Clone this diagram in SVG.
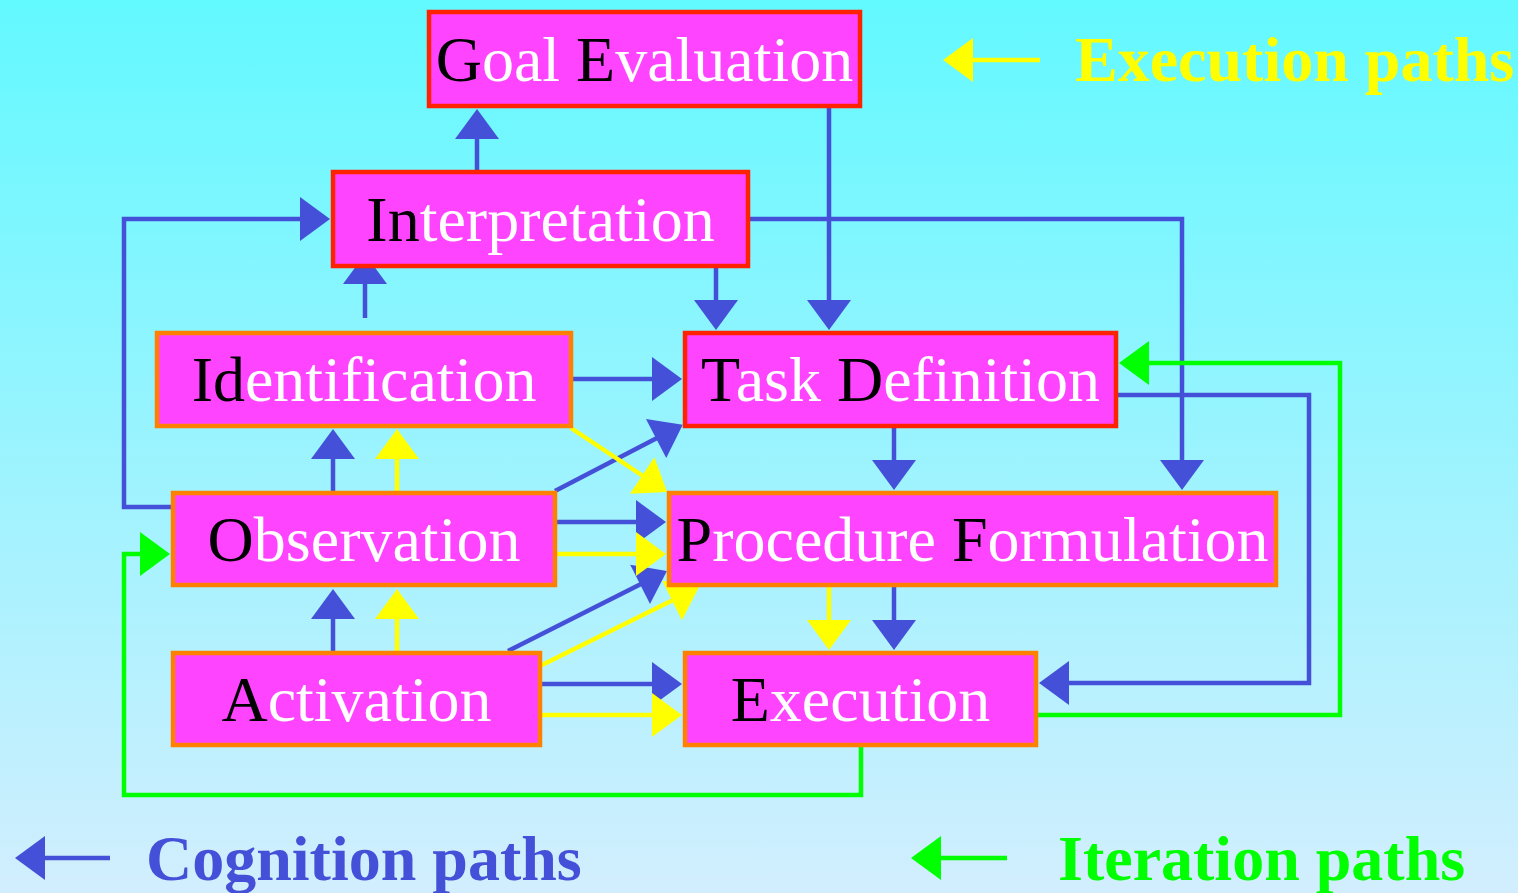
<svg xmlns="http://www.w3.org/2000/svg" width="1518" height="893" viewBox="0 0 1518 893">
<defs>
<linearGradient id="bg" x1="0" y1="0" x2="0" y2="1">
<stop offset="0" stop-color="#62F9FF"/>
<stop offset="1" stop-color="#D2EEFE"/>
</linearGradient>
<marker id="ab" markerUnits="userSpaceOnUse" markerWidth="34" markerHeight="48" viewBox="-2 -24 34 48" refX="1" refY="0" orient="auto"><path d="M0,-22 L30,0 L0,22 z" fill="#4450D8"/></marker>
<marker id="ay" markerUnits="userSpaceOnUse" markerWidth="34" markerHeight="48" viewBox="-2 -24 34 48" refX="1" refY="0" orient="auto"><path d="M0,-22 L30,0 L0,22 z" fill="#FFFF00"/></marker>
<marker id="ag" markerUnits="userSpaceOnUse" markerWidth="34" markerHeight="48" viewBox="-2 -24 34 48" refX="1" refY="0" orient="auto"><path d="M0,-22 L30,0 L0,22 z" fill="#00FF00"/></marker>
</defs>
<style>
.box{fill:#FF44FF;stroke-width:4.5}
.red{stroke:#FF2200}
.org{stroke:#FF8000}
.lbl{font-family:"Liberation Serif","Times New Roman",serif;font-size:64px;fill:#FFFFFF;text-anchor:middle}
.k{fill:#000000}
.b{fill:none;stroke:#4450D8;stroke-width:4.5;marker-end:url(#ab)}
.y{fill:none;stroke:#FFFF00;stroke-width:4.5;marker-end:url(#ay)}
.g{fill:none;stroke:#00FF00;stroke-width:4.5;marker-end:url(#ag)}
.leg{font-family:"Liberation Serif","Times New Roman",serif;font-size:64px;font-weight:bold}
</style>
<rect x="0" y="0" width="1518" height="893" fill="url(#bg)"/>

<g id="connectors">
<path class="b" d="M477,170 V138"/>
<path class="b" d="M365,318 V283"/>
<path class="b" d="M333,491 V458"/>
<path class="b" d="M333,651 V618"/>
<path class="b" d="M750,219 H1182 V461"/>
<path class="b" d="M716,268 V301"/>
<path class="b" d="M829,108 V301"/>
<path class="b" d="M573,379 H653"/>
<path class="b" d="M555,491 L657,438"/>
<path class="b" d="M557,522 H637"/>
<path class="b" d="M508,651 L641,584"/>
<path class="b" d="M542,684 H653"/>
<path class="b" d="M894,428 V461"/>
<path class="b" d="M894,587 V621"/>
<path class="b" d="M1118,395 H1309 V683 H1068"/>
<path class="b" d="M171,507 H124 V219 H301"/>
<path class="y" d="M397,491 V458"/>
<path class="y" d="M397,651 V618"/>
<path class="y" d="M571,428 L643,476"/>
<path class="y" d="M557,554 H637"/>
<path class="y" d="M540,666 L673,600"/>
<path class="y" d="M542,715 H653"/>
<path class="y" d="M829,587 V621"/>
<path class="g" d="M1038,715 H1340 V363 H1148"/>
<path class="g" d="M861,747 V795 H124 V554 H141"/>
</g>

<g id="goal-evaluation">
<rect class="box red" x="429" y="12" width="431" height="94"/>
<text class="lbl" x="644.5" y="81"><tspan class="k">G</tspan>oal <tspan class="k">E</tspan>valuation</text>
</g>
<g id="interpretation">
<rect class="box red" x="333" y="172" width="415" height="94"/>
<text class="lbl" x="540.5" y="241"><tspan class="k">In</tspan>terpretation</text>
</g>
<g id="identification">
<rect class="box org" x="157" y="333" width="414" height="93"/>
<text class="lbl" x="364" y="401"><tspan class="k">Id</tspan>entification</text>
</g>
<g id="observation">
<rect class="box org" x="173" y="493" width="382" height="92"/>
<text class="lbl" x="364" y="561"><tspan class="k">O</tspan>bservation</text>
</g>
<g id="activation">
<rect class="box org" x="173" y="653" width="367" height="92"/>
<text class="lbl" x="356.5" y="721"><tspan class="k">A</tspan>ctivation</text>
</g>
<g id="task-definition">
<rect class="box red" x="685" y="333" width="431" height="93"/>
<text class="lbl" x="900.5" y="401"><tspan class="k">T</tspan>ask <tspan class="k">D</tspan>efinition</text>
</g>
<g id="procedure-formulation">
<rect class="box org" x="669" y="493" width="607" height="92"/>
<text class="lbl" x="972.5" y="561"><tspan class="k">P</tspan>rocedure <tspan class="k">F</tspan>ormulation</text>
</g>
<g id="execution">
<rect class="box org" x="685" y="653" width="351" height="92"/>
<text class="lbl" x="860.5" y="721"><tspan class="k">E</tspan>xecution</text>
</g>

<g id="legend">
<path class="y" d="M1040,60 H972"/>
<text class="leg" x="1075" y="81" fill="#FFFF00">Execution paths</text>
<path class="b" d="M110,858 H44"/>
<text class="leg" x="146" y="880" fill="#4450D8">Cognition paths</text>
<path class="g" d="M1007,858 H940"/>
<text class="leg" x="1058" y="880" fill="#00FF00">Iteration paths</text>
</g>
</svg>
